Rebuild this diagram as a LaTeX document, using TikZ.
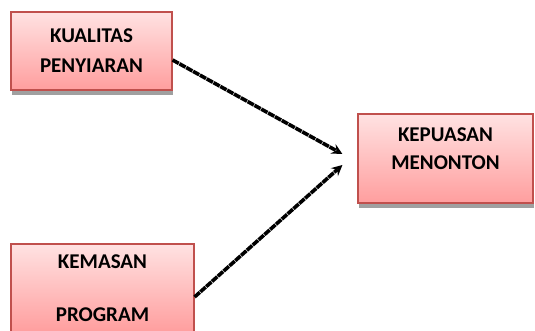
\documentclass[tikz,border=0pt]{standalone}
\usepackage{fontspec}
\setmainfont{Carlito}
\usetikzlibrary{positioning}
\usetikzlibrary{arrows}
\usetikzlibrary{shadows}

\definecolor{garis}{RGB}{192,80,77}
\definecolor{atas}{RGB}{255,226,226}
\definecolor{bawah}{RGB}{255,158,158}
\definecolor{bayang}{RGB}{160,160,160}

\begin{document}
\begin{tikzpicture}[x=1pt,y=1pt,
    kotak/.style={draw=garis, line width=1.2pt, top color=atas, bottom color=bawah,
        drop shadow={shadow xshift=1pt, shadow yshift=-5pt, fill=bayang, opacity=1},
        inner sep=0pt, align=center, font=\fontsize{21}{30}\selectfont\bfseries},
    teks/.style={align=center, inner sep=0pt, font=\fontsize{21}{28}\selectfont\bfseries},
    panah/.style={->, >=stealth, line width=3.6pt, dash pattern=on 7pt off 0.8pt}]
			% Define the frame of the picture
			\useasboundingbox (0,0) rectangle (535,331);
			\clip (0,0) rectangle (535,331);

			% Draw the boxes
			\node[kotak, minimum width=161pt, minimum height=78pt] (kualitas) at (91.5,280) {KUALITAS\\PENYIARAN};
			\node[kotak, minimum width=175pt, minimum height=89pt] (kepuasan) at (445.5,172.5) {};
			\node[teks, below=14.5pt of kepuasan.north] (tekskepuasan) {KEPUASAN\\MENONTON};
			\node[kotak, minimum width=183pt, minimum height=88pt] (kemasan) at (102.5,43) {KEMASAN\\[23pt]PROGRAM};

			% Define the ends of the arrows
			\coordinate (a) at ([yshift=-9pt]kualitas.east);
			\coordinate (b) at ([xshift=-15pt,yshift=4.5pt]kepuasan.west);
			\coordinate (c) at ([yshift=-9pt]kemasan.east);
			\coordinate (d) at ([xshift=-15pt,yshift=-6.5pt]kepuasan.west);

			% Draw the arrows
			\foreach \from/\to in {a/b, c/d}
			\draw[panah] (\from) -- (\to);
\end{tikzpicture}
\end{document}
